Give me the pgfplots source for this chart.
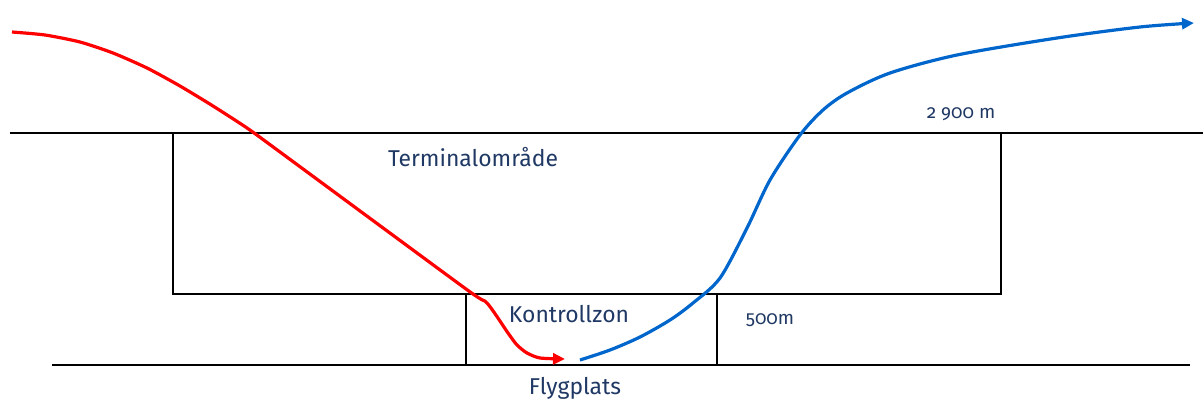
\documentclass[border=0pt]{standalone}
\usepackage{pgfplots}
\pgfplotsset{compat=1.18}
\usepackage{fontspec}
\setmainfont{Fira Sans}[Numbers=OldStyle]
\usetikzlibrary{arrows.meta}
\definecolor{txt}{RGB}{31,56,100}
\definecolor{rd}{RGB}{255,0,0}
\definecolor{bl}{RGB}{0,102,204}
\begin{document}
\begin{tikzpicture}
\begin{axis}[
  width=1203bp, height=403bp, scale only axis,
  xmin=0, xmax=1203, ymin=0, ymax=403,
  y dir=reverse,
  hide axis,
  clip=false,
]
% boundaries
\addplot[black, line width=1.7bp] coordinates {(10,133) (1203,133)};
\addplot[black, line width=1.7bp] coordinates {(52,365) (1190,365)};
\addplot[black, line width=1.5bp] coordinates {(173,133) (173,294) (1001,294) (1001,133)};
\addplot[black, line width=1.5bp] coordinates {(466,294) (466,365)};
\addplot[black, line width=1.5bp] coordinates {(717,294) (717,365)};
% red descent
\addplot[rd, line width=3.2bp, smooth, tension=0.4, -{Triangle[length=12bp,width=11bp]}] coordinates {
  (12,32) (45,35) (80,42) (113,53) (147,68) (180,86) (213,106) (247,128) (280,152) (466,289) (487,303) (508,333) (517,345) (527,353) (540,358) (565,359)};
% blue climb
\addplot[bl, line width=3.2bp, smooth, tension=0.5, -{Triangle[length=12bp,width=11bp]}] coordinates {
  (580,360) (610,350) (640,337) (670,320) (693,303) (720,278) (747,228) (770,180) (800,135) (823,110) (847,93) (890,73) (957,55) (1057,38) (1140,27) (1194,23)};
% labels
\node[txt, font=\fontsize{23}{27}\selectfont] at (axis cs:473,157) {Terminalområde};
\node[txt, font=\fontsize{23}{27}\selectfont] at (axis cs:569,314) {Kontrollzon};
\node[txt, font=\fontsize{23}{27}\selectfont] at (axis cs:575,388) {Flygplats};
\node[txt, font=\fontsize{19}{22}\selectfont] at (axis cs:961,114) {2 900 m};
\node[txt, font=\fontsize{19}{22}\selectfont] at (axis cs:770,320) {500m};
\end{axis}
\pgfresetboundingbox
\path[use as bounding box] (current axis.south west) rectangle (current axis.north east);
\end{tikzpicture}
\end{document}
